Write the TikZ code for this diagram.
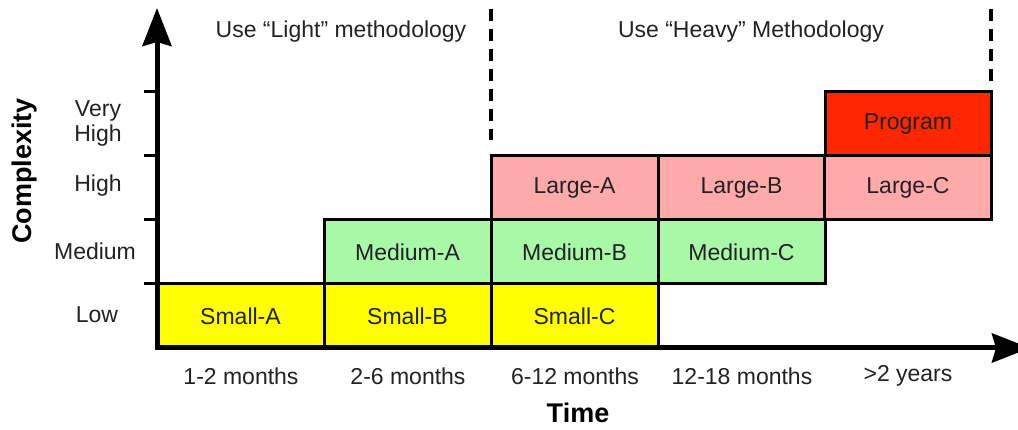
\documentclass[tikz,border=0pt]{standalone}
\usepackage{fontspec}
\setmainfont{Liberation Sans}
\usetikzlibrary{arrows.meta}
\definecolor{cyellow}{HTML}{FFFF00}
\definecolor{cgreen}{HTML}{A8F8A8}
\definecolor{cpink}{HTML}{FFAAAA}
\definecolor{cred}{HTML}{FF2600}
\definecolor{txt}{HTML}{222222}
\begin{document}
\begin{tikzpicture}[x=1pt,y=-1pt,
  cell/.style={draw=black, line width=3pt, minimum width=167pt, minimum height=64pt,
    inner sep=0pt, outer sep=0pt, font=\fontsize{23}{25}\selectfont, text=txt},
  smallc/.style={cell, fill=cyellow},
  mediumc/.style={cell, fill=cgreen},
  largec/.style={cell, fill=cpink},
  progc/.style={cell, fill=cred},
  lbl/.style={font=\fontsize{23}{25}\selectfont, text=txt, inner sep=0pt, align=center},
  axislabel/.style={font=\fontsize{27}{30}\selectfont\bfseries, text=black, inner sep=0pt},
  axisline/.style={line width=5pt, -{Stealth[length=38pt,width=29pt,inset=4pt]}},
  tick/.style={line width=3pt},
  divider/.style={line width=4pt, dash pattern=on 12pt off 8pt}
]
\useasboundingbox (0,0) rectangle (1018,430);
\clip (0,0) rectangle (1018,430);

% cells
\node[smallc]  (sa) at (240.5,316) {Small-A};
\node[smallc]  (sb) at (407.5,316) {Small-B};
\node[smallc]  (sc) at (574.5,316) {Small-C};
\node[mediumc] (ma) at (407.5,252) {Medium-A};
\node[mediumc] (mb) at (574.5,252) {Medium-B};
\node[mediumc] (mc) at (741.5,252) {Medium-C};
\node[largec]  (la) at (574.5,188) {Large-A};
\node[largec]  (lb) at (741.5,188) {Large-B};
\node[largec]  (lc) at (908,188) {Large-C};
\node[progc, minimum width=166pt] (pg) at (908,124) {Program};

% axes
\coordinate (O) at (157,348);
\coordinate (ytop) at (157,8);
\coordinate (xend) at (1030,348);
\coordinate (ybot) at (157,350);
\draw[axisline] (ybot) -- (ytop);
\draw[axisline] (O) -- (xend);

% ticks
\foreach \yy/\nm in {92/t1,156/t2,220/t3,284/t4}{
  \coordinate (\nm a) at (144,\yy);
  \coordinate (\nm b) at (157,\yy);
  \draw[tick] (\nm a) -- (\nm b);
}

% dividers
\coordinate (d1a) at (491,9);
\coordinate (d1b) at (491,140);
\coordinate (d2a) at (991,9);
\coordinate (d2b) at (991,86);
\draw[divider] (d1a) -- (d1b);
\draw[divider] (d2a) -- (d2b);

% top labels
\node[lbl] (light) at (341,32) {Use “Light” methodology};
\node[lbl] (heavy) at (751,32) {Use “Heavy” Methodology};

% y labels
\node[lbl] (vh)  at (98,123) {Very\\High};
\node[lbl] (hi)  at (98,186) {High};
\node[lbl] (me)  at (95,251) {Medium};
\node[lbl] (lo)  at (97,315) {Low};

% x labels
\node[lbl] (x1) at (241,376) {1-2 months};
\node[lbl] (x2) at (408,376) {2-6 months};
\node[lbl] (x3) at (575,376) {6-12 months};
\node[lbl] (x4) at (742,376) {12-18 months};
\node[lbl] (x5) at (908,376) {>2 years};

% axis titles
\node[axislabel, rotate=90] (cx) at (25,171) {Complexity};
\node[axislabel] (tm) at (578,413) {Time};
\end{tikzpicture}
\end{document}
